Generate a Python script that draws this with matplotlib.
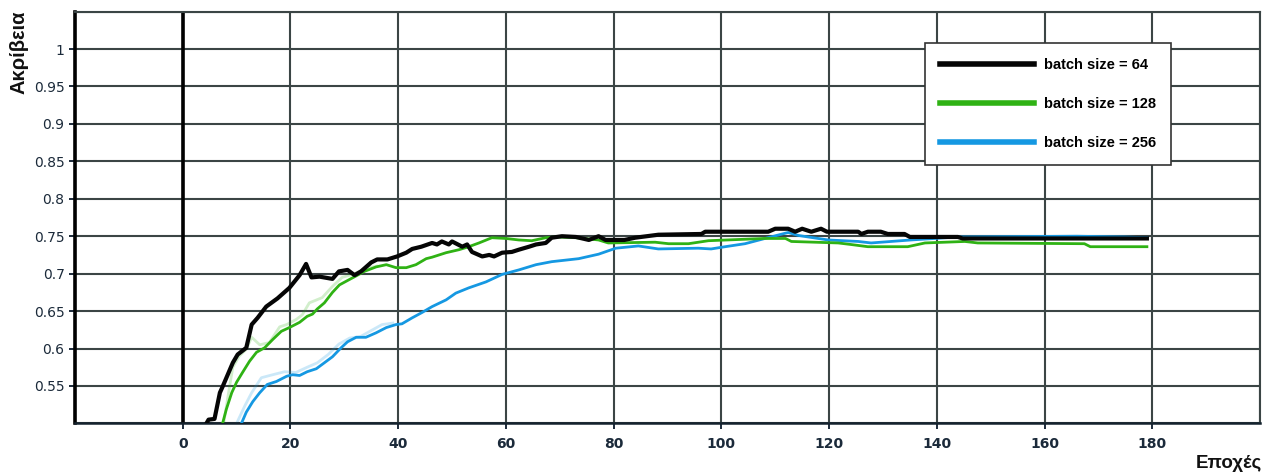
import matplotlib
matplotlib.use("Agg")
import matplotlib.pyplot as plt
from matplotlib.ticker import MultipleLocator, FixedLocator

# accuracy per epoch (smoothed curves)
epochs_64 = [4.0, 4.8, 5.9, 6.9, 7.4, 9.3, 10.2, 11.8, 12.8, 13.9, 15.5, 17.6, 19.8, 21.7, 22.9,
             23.9, 25.4, 27.8, 29.0, 30.6, 31.9, 33.1, 35.0, 36.1, 38.0, 39.8, 41.5, 42.6, 44.3,
             46.3, 47.2, 48.1, 49.4, 50.0, 51.9, 52.8, 53.7, 55.6, 56.9, 57.8, 59.3, 61.1, 62.4,
             64.3, 65.6, 67.4, 68.5, 70.4, 73.0, 75.4, 77.2, 78.5, 82.0, 84.0, 88.3, 96.3, 97.0,
             108.7, 110.0, 112.4, 113.7, 115.0, 116.7, 118.5, 119.6, 125.4, 126.0, 127.2, 129.6,
             130.9, 134.0, 135.0, 143.9, 144.8, 179.0]
acc_64 = [0.495, 0.505, 0.506, 0.541, 0.549, 0.581, 0.592, 0.601, 0.632, 0.641, 0.656, 0.667, 0.681,
          0.698, 0.713, 0.695, 0.696, 0.693, 0.703, 0.705, 0.698, 0.703, 0.715, 0.719, 0.719, 0.723,
          0.728, 0.733, 0.736, 0.741, 0.739, 0.743, 0.739, 0.743, 0.736, 0.739, 0.729, 0.723, 0.725,
          0.723, 0.728, 0.729, 0.732, 0.736, 0.739, 0.741, 0.748, 0.750, 0.749, 0.745, 0.750, 0.745,
          0.745, 0.748, 0.752, 0.753, 0.756, 0.756, 0.760, 0.760, 0.756, 0.760, 0.756, 0.760, 0.756,
          0.756, 0.753, 0.756, 0.756, 0.753, 0.753, 0.749, 0.749, 0.747, 0.747]

epochs_128 = [6.9, 7.4, 8.1, 9.1, 10.0, 11.1, 12.4, 13.7, 15.2, 16.7, 18.3, 19.8, 21.7, 23.1, 24.1,
              25.0, 26.3, 27.8, 29.1, 30.9, 32.2, 33.7, 35.9, 37.8, 39.6, 41.5, 43.3, 45.2, 46.3,
              48.9, 51.3, 53.1, 55.0, 57.4, 60.0, 62.4, 64.8, 67.4, 69.3, 73.0, 77.2, 79.0, 87.7,
              90.2, 93.9, 97.6, 108.0, 111.9, 113.0, 121.7, 124.0, 127.2, 134.6, 137.8, 145.2,
              147.6, 167.4, 168.5, 179.0]
acc_128 = [0.495, 0.500, 0.519, 0.541, 0.555, 0.568, 0.583, 0.595, 0.601, 0.612, 0.623, 0.628, 0.635,
           0.643, 0.646, 0.653, 0.661, 0.675, 0.685, 0.692, 0.697, 0.703, 0.709, 0.712, 0.708, 0.708,
           0.712, 0.720, 0.722, 0.728, 0.732, 0.736, 0.741, 0.748, 0.747, 0.745, 0.744, 0.748, 0.749,
           0.748, 0.745, 0.741, 0.742, 0.740, 0.740, 0.744, 0.747, 0.747, 0.743, 0.741, 0.739, 0.736,
           0.736, 0.741, 0.743, 0.741, 0.740, 0.736, 0.736]

epochs_256 = [10.5, 10.9, 11.8, 13.0, 14.3, 15.7, 17.4, 19.3, 20.4, 21.7, 23.1, 24.8, 26.3, 27.8,
              29.4, 30.6, 32.2, 34.0, 35.9, 37.8, 39.6, 40.7, 42.6, 44.4, 46.3, 48.9, 50.7, 53.1,
              56.3, 59.3, 62.4, 65.6, 68.5, 73.5, 77.2, 80.4, 84.6, 88.3, 95.7, 98.1, 100.7, 104.4,
              108.1, 112.4, 114.3, 119.8, 125.4, 127.8, 135.2, 139.6, 143.9, 166.0, 174.8, 179.0]
acc_256 = [0.495, 0.500, 0.515, 0.529, 0.541, 0.552, 0.556, 0.563, 0.565, 0.564, 0.569, 0.573, 0.581,
           0.589, 0.601, 0.609, 0.615, 0.615, 0.621, 0.628, 0.632, 0.633, 0.641, 0.648, 0.656, 0.665,
           0.674, 0.681, 0.689, 0.699, 0.705, 0.712, 0.716, 0.720, 0.726, 0.734, 0.737, 0.733, 0.734,
           0.733, 0.736, 0.740, 0.747, 0.755, 0.751, 0.745, 0.743, 0.741, 0.745, 0.747, 0.749, 0.750,
           0.749, 0.748]

# raw (unsmoothed) traces, shown faintly behind the smoothed ones
raw_epochs_128 = [7.6, 8.6, 9.3, 10.5, 11.8, 12.8, 14.3, 16.1, 18.0, 19.3, 21.1, 22.2, 23.5, 25.9,
                  27.8, 29.6, 31.5, 34.0, 36.0]
raw_acc_128 = [0.500, 0.545, 0.575, 0.590, 0.599, 0.615, 0.605, 0.608, 0.629, 0.632, 0.639, 0.645,
               0.661, 0.668, 0.683, 0.695, 0.699, 0.707, 0.710]
raw_epochs_256 = [10.0, 11.5, 12.8, 14.6, 16.7, 18.9, 21.0, 23.1, 25.0, 27.0, 29.0, 31.0, 33.0,
                  35.0, 37.0, 39.0]
raw_acc_256 = [0.500, 0.523, 0.541, 0.561, 0.565, 0.569, 0.568, 0.575, 0.581, 0.592, 0.606, 0.614,
               0.616, 0.624, 0.632, 0.634]

labels = ["batch size = 64", "batch size = 128", "batch size = 256"]
x_ticks = [0, 20, 40, 60, 80, 100, 120, 140, 160, 180]
y_ticks = [0.55, 0.6, 0.65, 0.7, 0.75, 0.8, 0.85, 0.9, 0.95, 1]

c64, c128, c256 = "#050505", "#2fb214", "#1598e2"
grid_c = "#3b4545"
tick_c = "#1b2a3a"

fig = plt.figure(figsize=(12.74, 4.75), dpi=100)
ax = fig.add_axes([75 / 1274, 1 - 423.4 / 475, (1260 - 75) / 1274, (423.4 - 11.6) / 475])
ax.set_xlim(-20, 200)
ax.set_ylim(0.5, 1.05)

# grid every 20 epochs / every 0.05 accuracy (minor ticks kept even where they overlap majors)
ax.xaxis.remove_overlapping_locs = False
ax.yaxis.remove_overlapping_locs = False
ax.xaxis.set_minor_locator(MultipleLocator(20))
ax.yaxis.set_minor_locator(MultipleLocator(0.05))
ax.grid(which="minor", color=grid_c, linewidth=1.5, zorder=0)
ax.tick_params(which="minor", length=0)
ax.set_axisbelow(True)
ax.axvline(0, color="#000000", linewidth=2.6, zorder=1)

for s in ["top", "right"]:
    ax.spines[s].set_color(grid_c)
    ax.spines[s].set_linewidth(1.5)
ax.spines["left"].set_color("#000000")
ax.spines["left"].set_linewidth(2.6)
ax.spines["bottom"].set_color("#14222e")
ax.spines["bottom"].set_linewidth(1.8)

# faint raw traces
ax.plot(raw_epochs_128, raw_acc_128, color=c128, alpha=0.22, linewidth=2.0, zorder=2)
ax.plot(raw_epochs_256, raw_acc_256, color=c256, alpha=0.22, linewidth=2.0, zorder=2)

ax.plot(epochs_256, acc_256, color=c256, linewidth=2.0, zorder=3, label=labels[2])
ax.plot(epochs_128, acc_128, color=c128, linewidth=2.0, zorder=4, label=labels[1])
ax.plot(epochs_64, acc_64, color=c64, linewidth=3.0, zorder=5, label=labels[0])

ax.xaxis.set_major_locator(FixedLocator(x_ticks))
ax.yaxis.set_major_locator(FixedLocator(y_ticks))
ax.set_xticklabels([str(t) for t in x_ticks], fontweight="bold")
ax.set_yticklabels([f"{t:g}" for t in y_ticks])
ax.tick_params(axis="both", which="major", colors=tick_c, labelsize=10, length=4, width=1.4)
ax.tick_params(axis="x", which="major", pad=6)

fig.text(19 / 1274, 1 - 52 / 475, "Ακρίβεια", rotation=90, ha="center", va="center",
         fontsize=14.5, fontweight="bold", color="#111111", family="Liberation Sans")
fig.text(1262 / 1274, 1 - 463 / 475, "Εποχές", ha="right", va="center",
         fontsize=13.5, fontweight="bold", color="#111111", family="Liberation Sans")

handles, labs = ax.get_legend_handles_labels()
order = [2, 1, 0]
leg = ax.legend([handles[i] for i in order], [labs[i] for i in order],
                loc="upper left", bbox_to_anchor=(925 / 1274, 1 - 43 / 475),
                bbox_transform=fig.transFigure, frameon=True, fancybox=False, framealpha=1.0,
                prop={"family": "Liberation Sans", "weight": "bold", "size": 10.5},
                handlelength=6.4, handletextpad=0.68, labelspacing=1.7,
                borderpad=1.05, borderaxespad=0)
leg.get_frame().set_edgecolor("#333333")
leg.get_frame().set_linewidth(1.2)
for ln in leg.get_lines():
    ln.set_linewidth(4)
leg.set_zorder(10)

fig.savefig("out.png", dpi=100)
